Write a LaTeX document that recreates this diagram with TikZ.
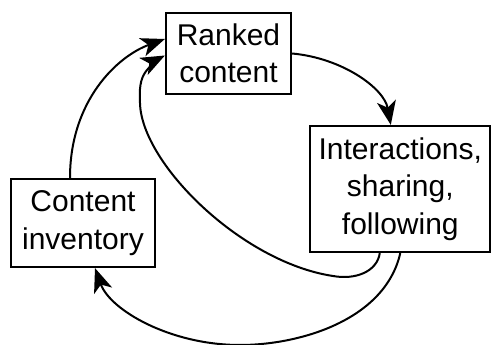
\documentclass[tikz,border=0pt]{standalone}
\usepackage{fontspec}
\setmainfont{Liberation Sans}
\usetikzlibrary{arrows.meta,calc}
\begin{document}
\begin{tikzpicture}[x=1pt,y=-1pt,
  box/.style={draw,line width=2.2pt,inner sep=0pt,align=center,
    font=\fontsize{30}{37.5}\selectfont},
  flow/.style={line width=2pt,-{Stealth[length=24pt,width=19pt,inset=6.5pt]}}]
\useasboundingbox (0,0) rectangle (491,345);
\node[box,minimum width=125pt,minimum height=81pt] (rc) at (228.5,53.5) {Ranked\\content};
\node[box,minimum width=180pt,minimum height=126pt] (int) at (400.3,189) {Interactions,\\sharing,\\following};
\node[box,minimum width=144pt,minimum height=88pt] (ci) at (83,223) {Content\\inventory};
\draw[flow] ([xshift=-13pt]ci.north) .. controls (70,100) and (118,56) .. ([yshift=14.5pt]rc.west);
\draw[flow] (rc.east) .. controls (342,58) and (384,88) .. ([xshift=-9.5pt]int.north);
\draw[flow] ([xshift=-20.5pt]int.south) .. controls (377,272) and (355,280) .. (333,276)
  .. controls (240,262) and (138,160) .. (140,100)
  .. controls (139,84) and (142,76) .. (147,70)
  .. controls (152,64) and (158,59) .. ([yshift=-2pt]rc.west);
\draw[flow] (int.south) .. controls (385,320) and (300,345) .. (240,345)
  .. controls (170,345) and (110,310) .. ([xshift=12pt]ci.south);
\end{tikzpicture}
\end{document}
